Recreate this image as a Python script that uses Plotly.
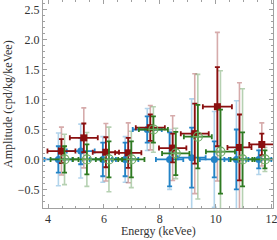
import plotly.graph_objects as go

# ---- data ----
energy = [4.48, 5.28, 6.07, 6.87, 7.66, 8.46, 9.25, 10.06, 10.85, 11.65]
bin_halfwidth = [0.5, 0.5, 0.47, 0.47, 0.52, 0.49, 0.5, 0.52, 0.43, 0.45]

blue_amp = [0.0, 0.14, 0.0, 0.0, 0.5, 0.0, 0.03, 0.0, 0.0, 0.0]
blue_err1 = [0.22, 0.22, 0.28, 0.28, 0.22, 0.45, 0.5, 0.3, 0.5, 0.15]
blue_err2 = [0.44, 0.45, 0.38, 0.38, 0.35, 0.5, 0.98, 0.8, 0.98, 0.25]

red_amp = [0.14, 0.36, 0.12, 0.11, 0.53, 0.19, 0.43, 0.88, 0.2, 0.25]
red_err1 = [0.2, 0.24, 0.25, 0.25, 0.22, 0.24, 0.5, 0.66, 0.55, 0.18]
red_err2 = [0.4, 0.5, 0.48, 0.5, 0.37, 0.54, 1.0, 1.24, 1.08, 0.36]

green_amp = [0.0, 0.0, 0.0, 0.0, 0.5, 0.1, 0.38, 0.13, 0.0, 0.0]
green_err1 = [0.22, 0.25, 0.3, 0.3, 0.22, 0.36, 0.53, 0.7, 0.45, 0.15]
green_err2 = [0.42, 0.45, 0.54, 0.47, 0.38, 0.42, 1.04, 1.35, 1.18, 0.2]

x_ticks = [4, 6, 8, 10, 12]
y_ticks = [-0.5, 0.0, 0.5, 1.0, 1.5, 2.0, 2.5]
x_title = "Energy (keVee)"
y_title = "Amplitude (cpd/kg/keVee)"

series = [
    dict(name="blue", offset=-0.11, amp=blue_amp, e1=blue_err1, e2=blue_err2,
         dark="#2383c6", light="rgba(35,131,198,0.35)",
         marker=dict(symbol="circle", size=7, color="#2383c6")),
    dict(name="red", offset=0.0, amp=red_amp, e1=red_err1, e2=red_err2,
         dark="#8a0f0f", light="rgba(138,15,15,0.35)",
         marker=dict(symbol="square", size=7, color="#8a0f0f")),
    dict(name="green", offset=0.11, amp=green_amp, e1=green_err1, e2=green_err2,
         dark="#2e7a22", light="rgba(46,122,34,0.35)",
         marker=dict(symbol="circle-cross-open", size=9, color="#6aa860",
                     line=dict(width=1.2, color="#6aa860"))),
]

fig = go.Figure()
for s in series:
    xs = [e + s["offset"] for e in energy]
    fig.add_trace(go.Scatter(
        x=xs, y=s["amp"], mode="markers",
        marker=dict(size=1, opacity=0),
        error_y=dict(type="data", array=s["e2"], color=s["light"], thickness=1.6, width=2.5),
        hoverinfo="skip", showlegend=False))
for s in series:
    xs = [e + s["offset"] for e in energy]
    fig.add_trace(go.Scatter(
        x=xs, y=s["amp"], mode="markers",
        marker=s["marker"],
        error_y=dict(type="data", array=s["e1"], color=s["dark"], thickness=1.8, width=2.5),
        error_x=dict(type="data", array=bin_halfwidth, color=s["dark"], thickness=1.8, width=2.5),
        showlegend=False))

font_main = dict(family="Liberation Serif", size=12, color="#333")
axis_common = dict(
    showgrid=False, zeroline=False, showline=True, linecolor="#a0a0a0", linewidth=1,
    mirror="allticks", ticks="inside", ticklen=4, tickcolor="#a0a0a0", tickwidth=1,
    tickfont=font_main, automargin=False, ticklabeloverflow="allow",
)
fig.update_xaxes(range=[3.82, 12.05], tickvals=x_ticks,
                 minor=dict(dtick=0.5, tick0=0, ticks="inside", ticklen=2, tickcolor="#a0a0a0"),
                 **axis_common)
fig.update_yaxes(range=[-0.81, 2.66], tickvals=y_ticks, tickformat=".1f",
                 minor=dict(dtick=0.1, tick0=0, ticks="inside", ticklen=2, tickcolor="#a0a0a0"),
                 **axis_common)
fig.add_annotation(text=x_title, xref="paper", yref="paper", x=0.5, y=0, yshift=-23,
                   xanchor="center", yanchor="middle", showarrow=False, font=font_main)
fig.add_annotation(text=y_title, xref="paper", yref="paper", x=0, y=0.5, xshift=-35,
                   xanchor="center", yanchor="middle", textangle=-90, showarrow=False, font=font_main)
fig.update_layout(width=277, height=240, margin=dict(l=43, r=4, t=0, b=32),
                  plot_bgcolor="white", paper_bgcolor="white", showlegend=False)
fig.write_html("out.html", config={"displayModeBar": False},
               post_script="document.body.style.margin='0';document.body.style.overflow='hidden';")
